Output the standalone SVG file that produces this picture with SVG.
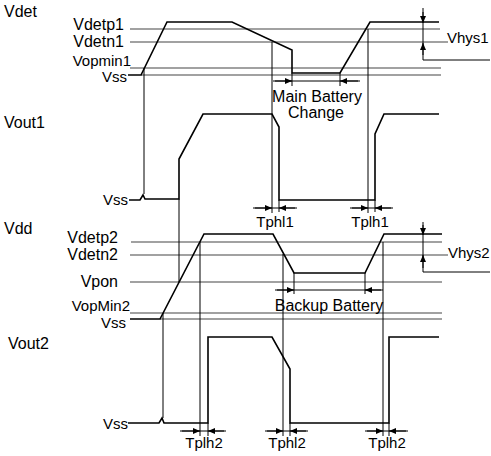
<svg xmlns="http://www.w3.org/2000/svg" width="491" height="456" viewBox="0 0 491 456">
<style>
text{font-family:"Liberation Sans",Arial,sans-serif;font-size:16px;fill:#000}
.s{font-size:15px}
.r{text-anchor:end}
.m{text-anchor:middle}
.ref{stroke:#444;stroke-width:1.1;fill:none}
.thin{stroke:#000;stroke-width:1;fill:none}
.sig{stroke:#000;stroke-width:1.6;fill:none;stroke-linejoin:miter}
.dim{stroke:#000;stroke-width:1;fill:none}
.arr{stroke:#000;stroke-width:1;fill:none;marker-end:url(#ah)}
</style>
<defs>
<marker id="ah" markerUnits="userSpaceOnUse" markerWidth="8" markerHeight="6" refX="7" refY="3" orient="auto">
<path d="M0,0 L7,3 L0,6 z" fill="#000"/>
</marker>
</defs>
<rect width="491" height="456" fill="#fff"/>

<g id="labels">
<text x="4" y="17">Vdet</text>
<text x="4" y="128">Vout1</text>
<text x="4" y="234">Vdd</text>
<text x="8" y="349">Vout2</text>
</g>

<g id="ref-lines">
<path class="ref" d="M130,29H440 M130,42H448 M130,68H441 M141,75H441"/>
<path class="ref" d="M131,242H442 M130,255H448 M130,282H442 M130,313H442 M160,319H442"/>
</g>

<g id="level-labels">
<text class="r" x="124" y="30">Vdetp1</text>
<text class="r" x="124" y="47">Vdetn1</text>
<text class="r s" x="131" y="66">Vopmin1</text>
<text class="r s" x="127" y="82">Vss</text>
<text class="r s" x="128" y="205">Vss</text>
<text class="r" x="118" y="243">Vdetp2</text>
<text class="r" x="118" y="260">Vdetn2</text>
<text class="r" x="118" y="287">Vpon</text>
<text class="r s" x="130" y="311">VopMin2</text>
<text class="r s" x="126" y="328">Vss</text>
<text class="r s" x="128" y="429">Vss</text>
</g>

<g id="signals">
<path id="vdet" class="sig" d="M128,75 L141,75 L167,22 L232,22 L292,50 L292,73 L340,73 L370,22 L439,22"/>
<path id="vout1" class="sig" d="M129,200 L140,200 L143,195 L145,199 L179,199 L179,159 L203,114 L272,114 L279,127 L279,200 L375,200 L375,134 L384,114 L439,114"/>
<path id="vdd" class="sig" d="M130,319 L160,319 L204,234 L273,234 L294,273 L365,273 L384,234 L442,234"/>
<path id="vout2" class="sig" d="M128,423 L159,423 L162,418 L164,423 L208,423 L208,337 L272,337 L290,369 L290,423 L389,423 L389,337 L439,337"/>
</g>

<g id="connectors">
<path class="thin" d="M144,68V194 M179,199V282 M272,42V213 M368,29V213 M163,313V418 M200,242V436 M283,254V436 M383,242V436"/>
<path class="thin" d="M279,200V212 M375,200V212 M208,423V436 M290,423V436 M389,423V436 M292,73V86 M340,73V86 M294,273V294 M365,273V294"/>
<path class="thin" d="M423,8V60H490 M423,222V272H490"/>
<path class="dim" d="M273,81H360 M253,208H297 M350,208H393 M275,290H383 M180,431H226 M265,431H308 M365,431H408"/>
<path class="arr" d="M275,81H292"/>
<path class="arr" d="M358,81H340"/>
<path class="arr" d="M255,208H272"/>
<path class="arr" d="M295,208H279"/>
<path class="arr" d="M352,208H368"/>
<path class="arr" d="M391,208H375"/>
<path class="arr" d="M277,290H294"/>
<path class="arr" d="M381,290H365"/>
<path class="arr" d="M182,431H200"/>
<path class="arr" d="M224,431H208"/>
<path class="arr" d="M267,431H283"/>
<path class="arr" d="M306,431H290"/>
<path class="arr" d="M367,431H383"/>
<path class="arr" d="M406,431H389"/>
<path class="arr" d="M423,12V23"/>
<path class="arr" d="M423,55V43"/>
<path class="arr" d="M423,225V235"/>
<path class="arr" d="M423,268V255"/>
</g>

<g id="annotations">
<text class="s" x="447" y="43">Vhys1</text>
<text class="s" x="448" y="258">Vhys2</text>
<text class="m" x="317" y="102">Main Battery</text>
<text class="m" x="316" y="118">Change</text>
<text class="m" x="329" y="311">Backup Battery</text>
<text class="m s" x="275" y="227">Tphl1</text>
<text class="m s" x="370" y="227">Tplh1</text>
<text class="m s" x="204" y="448">Tplh2</text>
<text class="m s" x="287" y="448">Tphl2</text>
<text class="m s" x="387" y="448">Tplh2</text>
</g>
</svg>
